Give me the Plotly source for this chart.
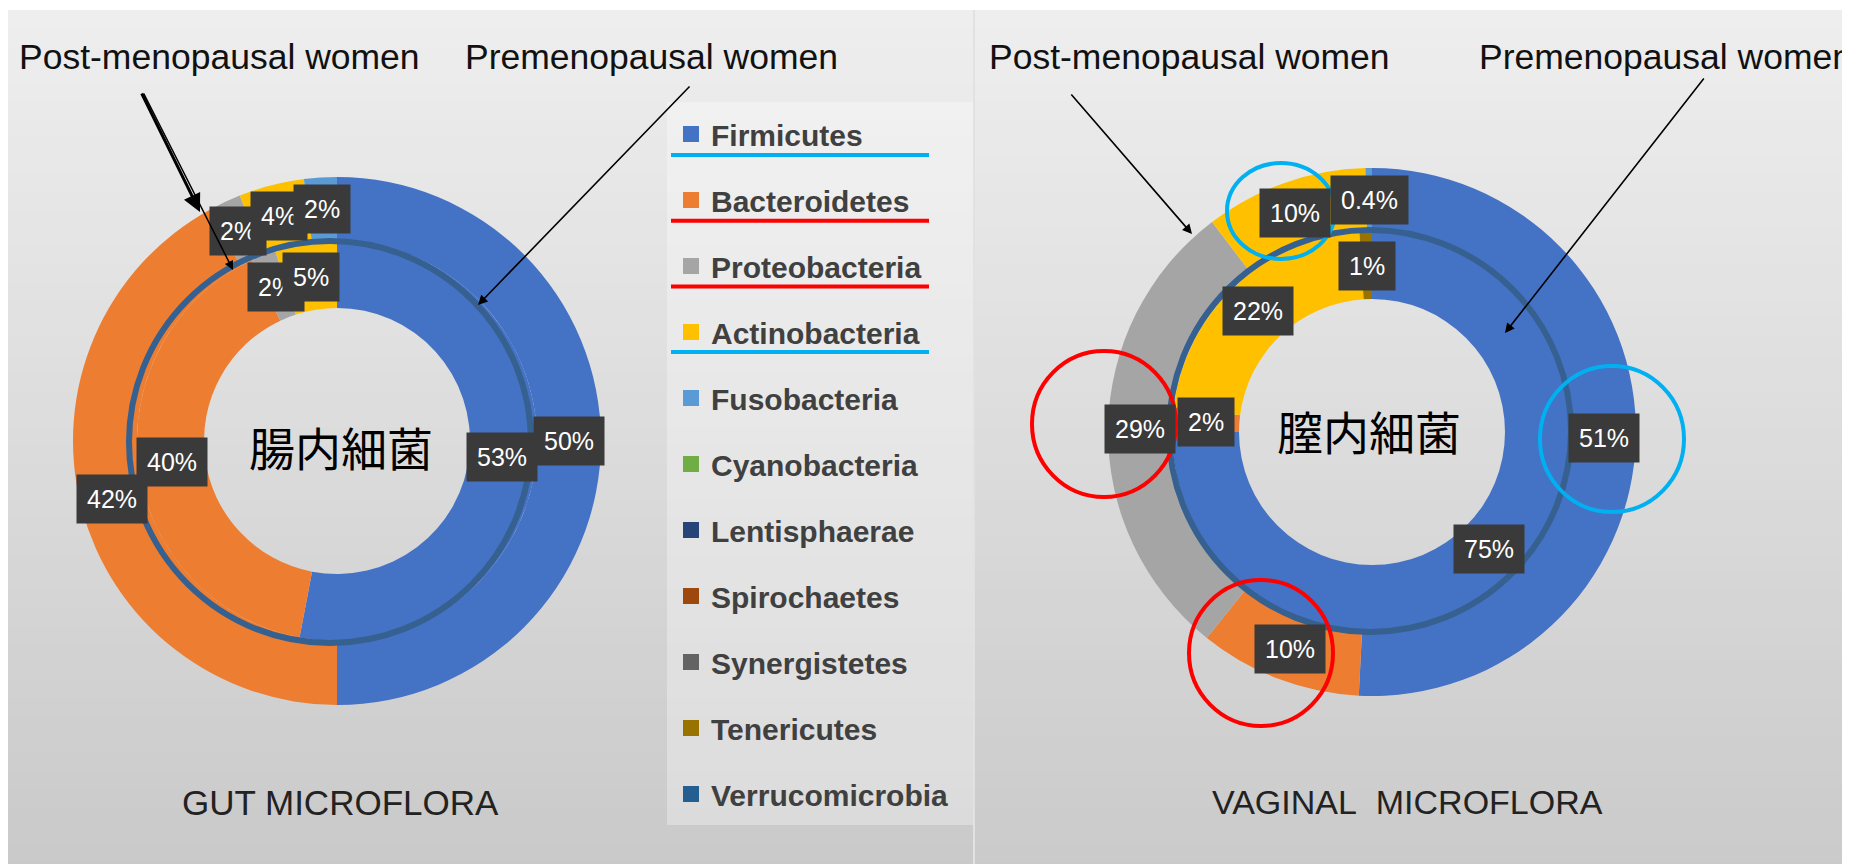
import math
import plotly.graph_objects as go

W, H = 1850, 864
OFF = 8  # page body margin: measured page coordinates -> figure coordinates

categories = ["Firmicutes", "Bacteroidetes", "Proteobacteria", "Actinobacteria",
              "Fusobacteria", "Cyanobacteria", "Lentisphaerae", "Spirochaetes",
              "Synergistetes", "Tenericutes", "Verrucomicrobia"]
colors = ["#4472C4", "#ED7D31", "#A5A5A5", "#FFC000", "#5B9BD5", "#70AD47",
          "#264478", "#9E480E", "#636363", "#997300", "#255E91"]

# Gut microflora (% of phyla)
gut_post = [50, 42, 2, 4, 2, 0, 0, 0, 0, 0, 0]      # outer ring: post-menopausal
gut_pre = [53, 40, 2, 5, 0, 0, 0, 0, 0, 0, 0]       # inner ring: premenopausal
# Vaginal microflora (% of phyla)
vag_post = [51, 10, 29, 10, 0.4, 0, 0, 0, 0, 0, 0]  # outer ring: post-menopausal
vag_pre = [75, 2, 0, 22, 0, 0, 0, 0, 0, 1, 0]       # inner ring: premenopausal

underlined = {"Firmicutes": "#00B0F0", "Bacteroidetes": "#FF0000",
              "Proteobacteria": "#FF0000", "Actinobacteria": "#00B0F0"}


def px(x):
    return (x - OFF) / W


def py(y):
    return 1 - (y - OFF) / H


def fmt(v):
    return f"{v:g}%"


fig = go.Figure()
shapes = []
annotations = []


# ---- background gradient panels ----
def gradient_panel(x0, x1, y0, y1, c_top, c_bot, n=48):
    for i in range(n):
        t = i / (n - 1)
        c = int(round(c_top + (c_bot - c_top) * t))
        ya = y0 + (y1 - y0) * i / n
        yb = y0 + (y1 - y0) * (i + 1) / n + 1
        shapes.append(dict(type="rect", xref="paper", yref="paper", layer="below",
                           x0=px(x0), x1=px(x1), y0=py(yb), y1=py(ya),
                           fillcolor=f"rgb({c},{c},{c})", line=dict(width=0)))


gradient_panel(8, 973, 10, 880, 238, 201)
gradient_panel(975, 1860, 10, 880, 238, 202)
shapes.append(dict(type="line", xref="paper", yref="paper", layer="below",
                   x0=px(974), x1=px(974), y0=py(10), y1=py(880),
                   line=dict(color="#c4c4c4", width=1)))
# legend panel
shapes.append(dict(type="rect", xref="paper", yref="paper", layer="below",
                   x0=px(667), x1=px(973), y0=py(825), y1=py(102),
                   fillcolor="rgba(255,255,255,0.32)", line=dict(width=0)))

# ---- donuts ----
rings = [
    # values, center, outer radius, hole radius, label radius
    (gut_post, (337, 441), 264, 200, 232),
    (gut_pre, (337, 441), 200, 133, 166),
    (vag_post, (1372, 432), 264, 200, 232),
    (vag_pre, (1372, 432), 200, 133, 166),
]

for vals, (cx, cy), r_out, r_in, r_lab in rings:
    fig.add_trace(go.Pie(
        labels=categories, values=vals, sort=False, direction="clockwise",
        rotation=0, hole=r_in / r_out, textinfo="none", showlegend=False,
        marker=dict(colors=colors, line=dict(width=0)),
        domain=dict(x=[px(cx - r_out), px(cx + r_out)],
                    y=[py(cy + r_out), py(cy - r_out)]),
        hoverinfo="label+value"))
    total = sum(vals)
    cum = 0
    for v in vals:
        if v > 0:
            th = 2 * math.pi * (cum + v / 2) / total
            lx = cx + r_lab * math.sin(th)
            ly = cy - r_lab * math.cos(th)
            annotations.append(dict(
                x=px(lx), y=py(ly), xref="paper", yref="paper", showarrow=False,
                xanchor="center", yanchor="middle",
                text=fmt(v), bgcolor="#3a3a3a", borderpad=10,
                font=dict(family="Liberation Sans, Arial", size=25, color="white")))
        cum += v

# dark-blue boundary circles between rings
for (cx, cy) in [(330, 442), (1370, 431)]:
    r = 201
    shapes.append(dict(type="circle", xref="paper", yref="paper", layer="above",
                       x0=px(cx - r), x1=px(cx + r), y0=py(cy + r), y1=py(cy - r),
                       line=dict(color="#35608F", width=6)))

# highlight circles (vaginal)
hl = [((1281, 211), 54, 48, "#00B0F0"), ((1612, 439), 72, 73, "#00B0F0"),
      ((1104, 424), 72, 73, "#FF0000"), ((1261, 653), 72, 73, "#FF0000")]
for (cx, cy), rx, ry, col in hl:
    shapes.append(dict(type="circle", xref="paper", yref="paper", layer="above",
                       x0=px(cx - rx), x1=px(cx + rx), y0=py(cy + ry), y1=py(cy - ry),
                       line=dict(color=col, width=4)))


# ---- texts ----
def text(x, y, s, size, color="#111111", family="Liberation Sans, Arial"):
    annotations.append(dict(x=px(x), y=py(y), xref="paper", yref="paper",
                            showarrow=False, text=s, xanchor="center", yanchor="middle",
                            font=dict(family=family, size=size, color=color)))


text(219, 57, "Post-menopausal women", 35.5)
text(651, 57, "Premenopausal women", 35.5)
text(1189, 57, "Post-menopausal women", 35.5)
text(1665, 57, "Premenopausal women", 35.5)
text(340, 802, "GUT MICROFLORA", 35, "#222222")
text(1407, 802, "VAGINAL\u00a0 MICROFLORA", 34, "#222222")
text(341, 446, "腸内細菌", 46, "#000000", "Noto Sans CJK JP")
text(1369, 430, "膣内細菌", 46, "#000000", "Noto Sans CJK JP")


# arrows
def arrow(x0, y0, x1, y1, width=1.6):
    annotations.append(dict(x=px(x1), y=py(y1), xref="paper", yref="paper",
                            ax=x0 - x1, ay=y0 - y1, axref="pixel", ayref="pixel",
                            text="", showarrow=True, arrowhead=2, arrowsize=1.2,
                            arrowwidth=width, arrowcolor="#000000"))


arrow(143, 92, 233, 270, 1.5)
arrow(141, 92, 200, 212, 3)
arrow(691, 85, 478, 305)
arrow(1070, 93, 1192, 234)
arrow(1705, 77, 1505, 333)

# ---- legend (underlines + entries) ----
item_y0, item_dy = 135, 65.7
for i, cat in enumerate(categories):
    if cat in underlined:
        yl = item_y0 + i * item_dy + 20
        shapes.append(dict(type="line", xref="paper", yref="paper", layer="above",
                           x0=px(671), x1=px(929), y0=py(yl), y1=py(yl),
                           line=dict(color=underlined[cat], width=4)))

for cat, col in zip(categories, colors):
    fig.add_trace(go.Scatter(x=[None], y=[None], mode="markers", name=cat,
                             legendgroup=cat,
                             marker=dict(symbol="square", size=16, color=col)))

fig.update_layout(
    width=W, height=H, margin=dict(l=0, r=0, t=0, b=0),
    paper_bgcolor="white", plot_bgcolor="rgba(0,0,0,0)",
    xaxis=dict(visible=False), yaxis=dict(visible=False),
    shapes=shapes, annotations=annotations,
    legend=dict(x=px(671), y=py(108), xanchor="left", yanchor="top",
                bgcolor="rgba(0,0,0,0)", tracegroupgap=24,
                font=dict(family="Liberation Sans, Arial", size=30,
                          color="#404040", weight="bold")),
)

fig.write_html("out.html")
